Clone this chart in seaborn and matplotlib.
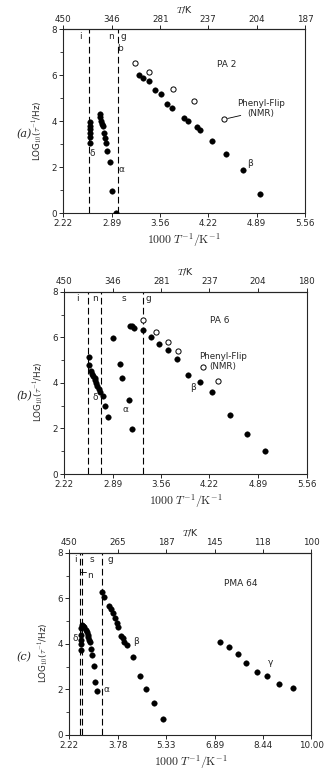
import numpy as np
import pandas as pd
import seaborn as sns
import matplotlib
matplotlib.use("Agg")
from matplotlib import pyplot as plt

sns.set_style("ticks")
plt.rcParams['font.family'] = ['DejaVu Sans']
plt.rcParams['mathtext.fontset'] = 'cm'

# ---- panel (a) PA 2
a_x = [2.584, 2.586, 2.588, 2.59, 2.592, 2.595,
       2.72, 2.73, 2.74, 2.76, 2.77, 2.78, 2.80, 2.81, 2.83, 2.87, 2.89, 2.95,
       3.265, 3.32, 3.41, 3.48, 3.57, 3.65, 3.72, 3.88, 3.94, 4.07, 4.11, 4.27, 4.46, 4.70, 4.93]
a_y = [3.95, 3.8, 3.65, 3.5, 3.3, 3.05,
       4.32, 4.2, 4.03, 3.88, 3.77, 3.48, 3.26, 3.04, 2.72, 2.24, 0.94, 0.02,
       6.03, 5.87, 5.74, 5.34, 5.19, 4.75, 4.58, 4.16, 4.03, 3.75, 3.6, 3.15, 2.58, 1.86, 0.83]
a_open_x = [3.21, 3.41, 3.74, 4.02, 4.44]
a_open_y = [6.55, 6.16, 5.4, 4.9, 4.1]

# ---- panel (b) PA 6
b_x = [2.57, 2.57, 2.59, 2.61, 2.62, 2.64, 2.65, 2.66, 2.68, 2.70, 2.72, 2.75, 2.78, 2.82,
       2.89, 2.99, 3.02, 3.11, 3.15, 3.13, 3.16, 3.18, 3.30, 3.41, 3.53, 3.65, 3.78,
       3.92, 4.09, 4.26, 4.50, 4.74, 4.99]
b_y = [5.14, 4.80, 4.51, 4.41, 4.32, 4.21, 4.11, 4.0, 3.88, 3.73, 3.58, 3.41, 2.97, 2.5,
       5.97, 4.85, 4.2, 3.26, 1.98, 6.52, 6.49, 6.43, 6.33, 6.03, 5.71, 5.43, 5.03,
       4.35, 4.03, 3.59, 2.57, 1.76, 0.99]
b_open_x = [3.31, 3.48, 3.65, 3.79, 4.13, 4.34]
b_open_y = [6.75, 6.25, 5.81, 5.38, 4.7, 4.1]

# ---- panel (c) PMA 64
c_x = [2.59, 2.59, 2.59, 2.59, 2.59,
       2.62, 2.67, 2.70, 2.75, 2.78, 2.81, 2.83, 2.85, 2.88, 2.92, 2.96, 3.01, 3.05, 3.10,
       3.26, 3.32, 3.50, 3.56, 3.64, 3.69, 3.75, 3.80, 3.87, 3.93, 3.98, 4.07, 4.26, 4.48, 4.69, 4.95, 5.22,
       7.07, 7.35, 7.64, 7.91, 8.26, 8.58, 8.97, 9.41]
c_y = [4.7, 4.38, 4.15, 3.98, 3.74,
       4.84, 4.79, 4.73, 4.62, 4.50, 4.40, 4.29, 4.18, 4.06, 3.77, 3.52, 3.03, 2.34, 1.95,
       6.29, 6.04, 5.68, 5.53, 5.34, 5.12, 4.9, 4.76, 4.36, 4.25, 4.1, 3.96, 3.41, 2.58, 2.01, 1.42, 0.70,
       4.06, 3.85, 3.56, 3.14, 2.76, 2.58, 2.25, 2.04]

ticks_ab = [2.22, 2.89, 3.56, 4.22, 4.89, 5.56]
ticks_c = [2.22, 3.78, 5.33, 6.89, 8.44, 10.00]
top_a = ['450', '346', '281', '237', '204', '187']
top_b = ['450', '346', '281', '237', '204', '180']
top_c = ['450', '265', '187', '145', '118', '100']

fig = plt.figure(figsize=(3.35, 7.72), dpi=100)
ax_a = fig.add_axes([0.189, 0.724, 0.722, 0.238])
ax_b = fig.add_axes([0.191, 0.386, 0.725, 0.236])
ax_c = fig.add_axes([0.207, 0.048, 0.722, 0.236])

fs = 6.3


def setup(ax, xt, top, letter):
    ax.set_xlim(xt[0], xt[-1])
    ax.set_ylim(0, 8)
    ax.set_xticks(xt)
    ax.set_xticklabels(['%.2f' % v for v in xt], fontsize=fs)
    ax.set_yticks([0, 2, 4, 6, 8])
    ax.set_yticks([1, 3, 5, 7], minor=True)
    ax.set_yticklabels(['0', '2', '4', '6', '8'], fontsize=fs)
    ax.tick_params(direction='out', length=3, width=0.7, pad=1.5)
    ax.tick_params(which='minor', direction='out', length=2, width=0.6)
    for s in ax.spines.values():
        s.set_visible(True)
        s.set_linewidth(0.8)
    sec = ax.secondary_xaxis('top')
    sec.set_xticks(xt)
    sec.set_xticklabels(top, fontsize=fs)
    sec.tick_params(direction='out', length=3, width=0.7, pad=1)
    sec.set_xlabel('$T$/K', fontsize=fs + 0.5, labelpad=2, family='DejaVu Sans')
    ax.set_xlabel(r'$1000\;T^{-1}/\mathrm{K}^{-1}$', fontsize=8.5, labelpad=2)
    ax.set_ylabel(r'LOG$_{10}$($\tau^{-1}$/Hz)', fontsize=fs)
    ax.yaxis.set_label_coords(-0.075, 0.45)
    pos = ax.get_position()
    fig.text(0.072, pos.y0 + pos.height * 0.43, letter, fontsize=8,
             family='DejaVu Serif', style='italic', ha='center', va='center')


def dots(ax, x, y, filled=True):
    df = pd.DataFrame({'x': x, 'y': y})
    if filled:
        sns.scatterplot(data=df, x='x', y='y', ax=ax, color='black', s=16,
                        edgecolor='black', linewidth=0.3, zorder=3)
    else:
        sns.scatterplot(data=df, x='x', y='y', ax=ax, facecolor='white', s=14,
                        edgecolor='black', linewidth=0.7, zorder=3)


dash = dict(color='black', lw=0.8, ls=(0, (6, 3)), zorder=1)
lab = dict(fontsize=6.5, ha='center', va='center')

# (a)
dots(ax_a, a_x, a_y)
dots(ax_a, a_open_x, a_open_y, filled=False)
for v in [2.57, 2.98]:
    ax_a.axvline(v, **dash)
setup(ax_a, ticks_ab, top_a, '(a)')
ax_a.text(2.45, 7.7, 'i', **lab)
ax_a.text(2.88, 7.7, 'n', **lab)
ax_a.text(3.05, 7.7, 'g', **lab)
ax_a.text(3.0, 7.15, 'b', **lab)
ax_a.text(4.47, 6.45, 'PA 2', **lab)
ax_a.text(4.95, 4.55, 'Phenyl-Flip\n(NMR)', fontsize=6.3, ha='center', va='center', linespacing=1.1)
ax_a.plot([4.49, 4.67], [4.12, 4.25], color='black', lw=0.6)
ax_a.text(2.615, 2.6, 'δ', **lab)
ax_a.text(3.03, 1.9, 'α', **lab)
ax_a.text(4.80, 2.15, 'β', **lab)

# (b)
dots(ax_b, b_x, b_y)
dots(ax_b, b_open_x, b_open_y, filled=False)
for v in [2.55, 2.73, 3.30]:
    ax_b.axvline(v, **dash)
setup(ax_b, ticks_ab, top_b, '(b)')
ax_b.text(2.40, 7.7, 'i', **lab)
ax_b.text(2.64, 7.7, 'n', **lab)
ax_b.text(3.04, 7.7, 's', **lab)
ax_b.text(3.38, 7.7, 'g', **lab)
ax_b.text(4.36, 6.72, 'PA 6', **lab)
ax_b.text(4.41, 4.95, 'Phenyl-Flip\n(NMR)', fontsize=6.3, ha='center', va='center', linespacing=1.1)
ax_b.text(2.65, 3.35, 'δ', **lab)
ax_b.text(3.07, 2.85, 'α', **lab)
ax_b.text(3.99, 3.8, 'β', **lab)

# (c)
dots(ax_c, c_x, c_y)
for v in [2.56, 2.64, 3.28]:
    ax_c.axvline(v, **dash)
setup(ax_c, ticks_c, top_c, '(c)')
ax_c.text(2.40, 7.7, 'i', **lab)
ax_c.text(2.94, 7.7, 's', **lab)
ax_c.text(3.53, 7.7, 'g', **lab)
ax_c.plot([2.56, 2.56, 2.75], [7.3, 7.15, 7.15], color='black', lw=0.6)
ax_c.text(2.88, 7.0, 'n', **lab)
ax_c.text(7.72, 6.66, 'PMA 64', **lab)
ax_c.text(2.40, 4.25, 'δ', **lab)
ax_c.text(3.42, 2.0, 'α', **lab)
ax_c.text(4.36, 4.1, 'β', **lab)
ax_c.text(8.69, 3.2, 'γ', **lab)

fig.savefig('out.png', dpi=100, facecolor='white')
